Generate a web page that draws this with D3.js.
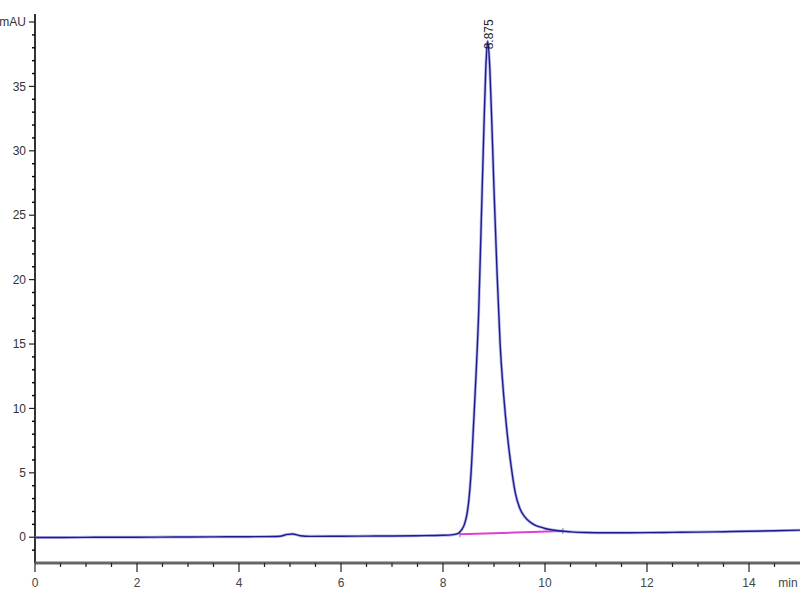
<!DOCTYPE html>
<html>
<head>
<meta charset="utf-8">
<script src="https://cdn.jsdelivr.net/npm/d3@7"></script>
<style>
  html, body { margin: 0; padding: 0; background: #fff; }
  svg { display: block; }
  text { font-family: "Liberation Sans Narrow", "Arial Narrow", "Liberation Sans", Arial, sans-serif; }
</style>
</head>
<body>
<svg id="chart" width="800" height="600"></svg>
<script>
// ---- data ----
const timeMin = [0, 0.5, 1, 1.5, 2, 2.5, 3, 3.5, 4, 4.5, 4.8, 4.95, 5.05, 5.2, 5.4, 6, 6.5, 7, 7.5, 8, 8.2, 8.3, 8.36, 8.42, 8.47, 8.51, 8.55, 8.6, 8.65, 8.7, 8.75, 8.8, 8.84, 8.875, 8.91, 8.95, 9.0, 9.06, 9.12, 9.19, 9.26, 9.34, 9.42, 9.5, 9.6, 9.7, 9.8, 9.9, 10.0, 10.15, 10.3, 10.5, 10.8, 11.2, 11.6, 12, 12.5, 13, 13.5, 14, 14.5, 15];
const signalMAU = [-0.02, -0.02, -0.01, 0.0, 0.0, 0.01, 0.02, 0.03, 0.04, 0.05, 0.08, 0.22, 0.25, 0.12, 0.07, 0.08, 0.09, 0.1, 0.12, 0.15, 0.2, 0.3, 0.55, 1.0, 1.8, 3.0, 5.0, 8.8, 12.8, 17.5, 24.5, 31.5, 36.5, 38.5, 37.0, 33.0, 27.0, 20.5, 15.0, 11.0, 8.0, 5.4, 3.4, 2.3, 1.6, 1.2, 0.95, 0.8, 0.68, 0.56, 0.48, 0.42, 0.37, 0.35, 0.35, 0.36, 0.38, 0.4, 0.43, 0.46, 0.5, 0.55];
const integrationBase = [[8.33, 0.23], [10.35, 0.49]];
const peakLabel = { time: 8.875, value: 38.5, text: "8.875" };
const xTickValues = [0, 2, 4, 6, 8, 10, 12, 14];
const yTickValues = [0, 5, 10, 15, 20, 25, 30, 35, 40];
const yTickLabels = ["0", "5", "10", "15", "20", "25", "30", "35", "mAU"];
const xUnit = "min";

// ---- layout ----
const svg = d3.select("#chart");
const x = d3.scaleLinear().domain([0, 15]).range([35, 800]);
const y = d3.scaleLinear().domain([-2, 40]).range([563, 22]);

// y axis
const yAxisG = svg.append("g").attr("transform", "translate(35,0)");
yAxisG.append("line").attr("x1", 0).attr("x2", 0).attr("y1", 14).attr("y2", 563)
  .attr("stroke", "#000").attr("stroke-width", 1.6);
const yMinor = d3.range(-1, 41, 1).filter(v => v % 5 !== 0);
yAxisG.selectAll("line.ymin").data(yMinor).enter().append("line")
  .attr("x1", -3).attr("x2", 0).attr("y1", d => y(d)).attr("y2", d => y(d))
  .attr("stroke", "#000").attr("stroke-width", 1.4);
yAxisG.selectAll("line.ymaj").data(yTickValues).enter().append("line")
  .attr("x1", -6).attr("x2", 0).attr("y1", d => y(d)).attr("y2", d => y(d))
  .attr("stroke", "#222").attr("stroke-width", 1.2);
yAxisG.selectAll("text.ylab").data(yTickValues).enter().append("text")
  .attr("x", -9).attr("y", d => y(d)).attr("dy", "0.35em")
  .attr("text-anchor", "end").attr("font-size", 12).attr("fill", "#333")
  .text((d, i) => yTickLabels[i]);

// x axis
const xAxisG = svg.append("g").attr("transform", "translate(0,563)");
xAxisG.append("line").attr("x1", 35).attr("x2", 800).attr("y1", 0).attr("y2", 0)
  .attr("stroke", "#666").attr("stroke-width", 3);
const xMinor = d3.range(0.5, 15, 0.5).filter(v => v % 2 !== 0);
xAxisG.selectAll("line.xmin").data(xMinor).enter().append("line")
  .attr("x1", d => x(d)).attr("x2", d => x(d)).attr("y1", 0).attr("y2", 4)
  .attr("stroke", "#222").attr("stroke-width", 1.2);
xAxisG.selectAll("line.xmaj").data(xTickValues).enter().append("line")
  .attr("x1", d => x(d)).attr("x2", d => x(d)).attr("y1", 0).attr("y2", 9)
  .attr("stroke", "#222").attr("stroke-width", 1.2);
xAxisG.selectAll("text.xlab").data(xTickValues).enter().append("text")
  .attr("x", d => x(d)).attr("y", 24)
  .attr("text-anchor", "middle").attr("font-size", 12).attr("fill", "#444")
  .text(d => d);
xAxisG.append("text").attr("x", 788).attr("y", 24).attr("text-anchor", "middle")
  .attr("font-size", 12).attr("fill", "#444").text(xUnit);

// integration baseline
svg.append("path")
  .datum(integrationBase)
  .attr("d", d3.line().x(d => x(d[0])).y(d => y(d[1])))
  .attr("stroke", "#e040d0").attr("stroke-width", 2).attr("fill", "none");
svg.selectAll("line.itick").data(integrationBase).enter().append("line")
  .attr("x1", d => x(d[0])).attr("x2", d => x(d[0]))
  .attr("y1", d => y(d[1]) - 3).attr("y2", d => y(d[1]) + 3)
  .attr("stroke", "#777").attr("stroke-width", 1);

// signal
const pts = timeMin.map((t, i) => [t, signalMAU[i]]);
const line = d3.line().x(d => x(d[0])).y(d => y(d[1])).curve(d3.curveMonotoneX);
svg.append("path").datum(pts).attr("d", line)
  .attr("stroke", "#8a8ae0").attr("stroke-width", 3).attr("fill", "none").attr("opacity", 0.6);
svg.append("path").datum(pts).attr("d", line)
  .attr("stroke", "#1c1c8c").attr("stroke-width", 1.4).attr("fill", "none");

// peak label
svg.append("text")
  .attr("transform", `translate(${x(peakLabel.time) + 5},${y(peakLabel.value) + 8}) rotate(-90)`)
  .attr("font-size", 12).attr("fill", "#222").attr("text-anchor", "start")
  .text(peakLabel.text);
</script>
</body>
</html>
